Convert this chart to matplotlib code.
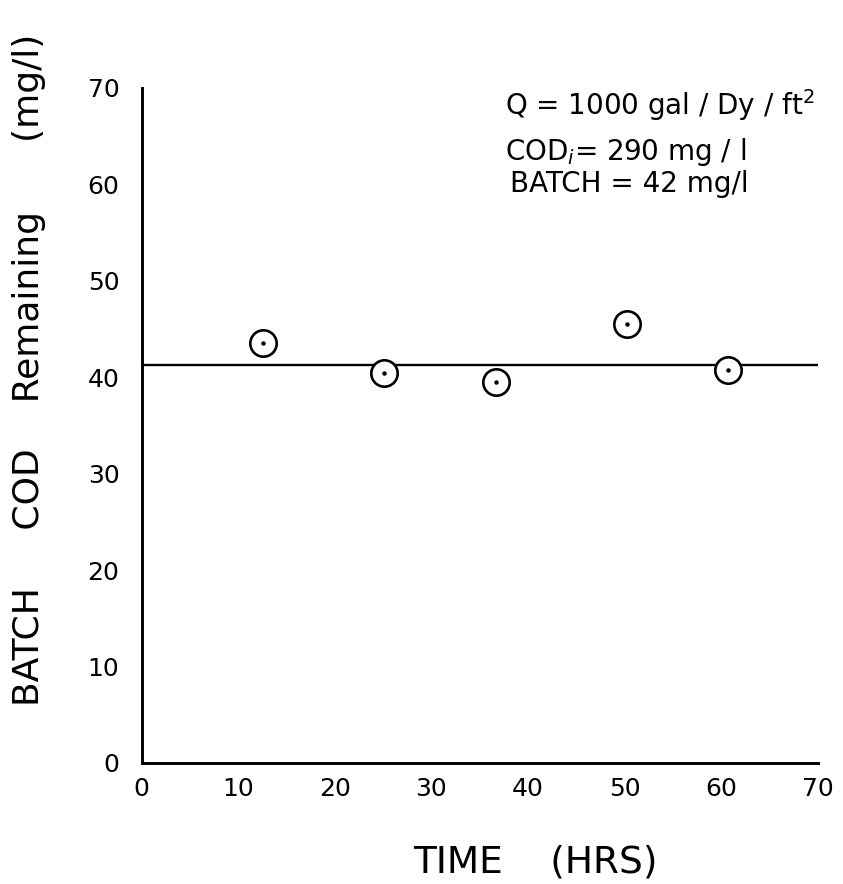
import matplotlib
matplotlib.use("Agg")
import matplotlib.pyplot as plt

# Data
time_hrs = [12.6, 25.1, 36.7, 50.3, 60.7]
cod_remaining = [43.6, 40.4, 39.5, 45.5, 40.7]
batch_level = 41.3
x_ticks = [0, 10, 20, 30, 40, 50, 60, 70]
y_ticks = [0, 10, 20, 30, 40, 50, 60, 70]

plt.rcParams['font.family'] = ['DejaVu Sans']

fig = plt.figure(figsize=(8.43, 8.84), dpi=100)
ax = fig.add_axes([0.168, 0.137, 0.802, 0.7635])

ax.set_xlim(0, 70)
ax.set_ylim(0, 70)

# batch reference line
ax.axhline(batch_level, color='black', lw=1.7, zorder=2)

# data circles with centre dots
ax.plot(time_hrs, cod_remaining, linestyle='none', marker='o', markersize=19,
        markerfacecolor='white', markeredgecolor='black', markeredgewidth=1.9, zorder=3)
ax.plot(time_hrs, cod_remaining, linestyle='none', marker='o', markersize=2.2,
        color='black', zorder=4)

for s in ['top', 'right']:
    ax.spines[s].set_visible(False)
for s in ['left', 'bottom']:
    ax.spines[s].set_linewidth(2.1)

ax.set_xticks(x_ticks)
ax.set_yticks(y_ticks)
ax.tick_params(axis='both', length=0, labelsize=18)
ax.tick_params(axis='x', pad=10)
ax.tick_params(axis='y', pad=16)

ax.set_xlabel('TIME    (HRS)', fontsize=27, va='center')
ax.xaxis.set_label_coords(0.583, -0.148)
ax.set_ylabel('BATCH     COD    Remaining      (mg/l)', fontsize=26, va='center')
ax.yaxis.set_label_coords(-0.166, 0.582)

ax.text(0.537, 0.960, 'Q = 1000 gal / Dy / ft$^{2}$', transform=ax.transAxes,
        fontsize=20, va='baseline', ha='left')
ax.text(0.537, 0.893, 'COD$_{i}$= 290 mg / l', transform=ax.transAxes,
        fontsize=20, va='baseline', ha='left')
ax.text(0.545, 0.846, 'BATCH = 42 mg/l', transform=ax.transAxes,
        fontsize=20, va='baseline', ha='left')

fig.savefig('out.png', dpi=100)
